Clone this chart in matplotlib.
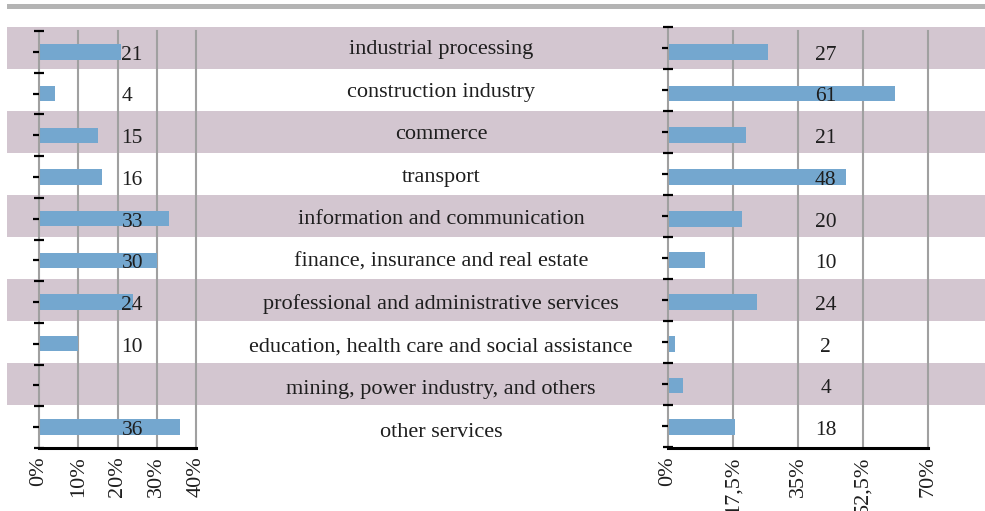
import numpy as np
import matplotlib
matplotlib.use("Agg")
import matplotlib.pyplot as plt
from matplotlib.patches import Rectangle

plt.rcParams['font.family'] = ['Liberation Serif', 'DejaVu Serif']

categories = ["industrial processing", "construction industry", "commerce", "transport",
              "information and communication", "finance, insurance and real estate",
              "professional and administrative services",
              "education, health care and social assistance",
              "mining, power industry, and others", "other services"]
left_vals = [21, 4, 15, 16, 33, 30, 24, 10, None, 36]
right_vals = [27, 61, 21, 48, 20, 10, 24, 2, 4, 18]
left_ticks = [0, 10, 20, 30, 40]
left_ticklabels = ["0%", "10%", "20%", "30%", "40%"]
right_ticks = [0, 17.5, 35, 52.5, 70]
right_ticklabels = ["0%", "17,5%", "35%", "52,5%", "70%"]

W, H = 985, 511
band_col = '#d3c6d0'
bar_col = '#74a7cf'
grid_col = '#a0a0a0'
txt_col = '#1e1e1e'


def rect(x0, y0, x1, y1):
    return [x0 / W, 1 - y1 / H, (x1 - x0) / W, (y1 - y0) / H]


fig = plt.figure(figsize=(W / 100, H / 100), dpi=100)

# top rule
fig.add_artist(Rectangle((7 / W, 1 - 9 / H), 1, 5 / H, transform=fig.transFigure,
                         color='#b4b4b4', lw=0))

n = len(categories)
rows = np.arange(n) + 0.5

# background bands + category names
bg = fig.add_axes(rect(7, 27, 985, 447))
bg.set_xlim(0, 1)
bg.set_ylim(n, 0)
bg.axis('off')
for i, cat in enumerate(categories):
    if i % 2 == 0:
        bg.axhspan(i, i + 1, color=band_col, lw=0)
    bg.text((441 - 7) / 978, i * 1.012 + 0.643, cat, ha='center', va='baseline',
            fontsize=16, color=txt_col)


def bar_axes(pos, xmax, ticks, ticklabels):
    ax = fig.add_axes(pos)
    ax.set_facecolor('none')
    ax.set_xlim(0, xmax)
    ax.set_ylim(n, 0)
    ax.set_xticks(ticks)
    ax.set_xticklabels(ticklabels, rotation=90, fontsize=16, color=txt_col)
    ax.tick_params(axis='x', length=0, pad=6)
    ax.set_yticks([])
    ax.grid(axis='x', color=grid_col, lw=1.5)
    for ln in ax.get_xgridlines():
        ln.set_clip_on(False)
    ax.get_xgridlines()[0].set_visible(False)
    ax.set_axisbelow(True)
    for s in ['top', 'right', 'left']:
        ax.spines[s].set_visible(False)
    ax.spines['bottom'].set_color('black')
    ax.spines['bottom'].set_linewidth(2.2)
    return ax


def tick_axes(pos, xmax):
    ax = fig.add_axes(pos)
    ax.set_facecolor('none')
    ax.set_xlim(0, xmax)
    ax.set_ylim(n, 0)
    ax.set_xticks([])
    ax.set_yticks(np.arange(n + 1))
    ax.set_yticks(rows, minor=True)
    ax.tick_params(axis='y', which='major', direction='inout', length=7.5, width=1.6,
                   color='black', labelleft=False)
    ax.tick_params(axis='y', which='minor', direction='out', length=4, width=1.6,
                   color='black', labelleft=False)
    for s in ['top', 'right', 'bottom']:
        ax.spines[s].set_visible(False)
    ax.spines['left'].set_color(grid_col)
    ax.spines['left'].set_linewidth(1.5)
    ax.spines['left'].set_zorder(0.5)
    return ax


# left panel
axl = bar_axes(rect(39, 31, 196, 448), 40, left_ticks, left_ticklabels)
lv = [np.nan if v is None else v for v in left_vals]
axl.barh(rows, lv, height=0.37, color=bar_col, zorder=2)
for y, v in zip(rows, left_vals):
    if v is not None:
        axl.text(21, y + 0.19, str(v), ha='left', va='baseline', fontsize=15.5,
                 color=txt_col, zorder=3)
tick_axes(rect(39, 31, 196, 448), 40)

# right panel
axr = bar_axes(rect(668, 31, 928, 448), 70, right_ticks, right_ticklabels)
axr.barh(rows, right_vals, height=0.38, color=bar_col, zorder=2)
for y, v in zip(rows, right_vals):
    axr.text(42.5, y + 0.19, str(v), ha='center', va='baseline', fontsize=15.5,
             color=txt_col, zorder=3)
tick_axes(rect(668, 27, 928, 447), 70)

fig.savefig("out.png", dpi=100)
